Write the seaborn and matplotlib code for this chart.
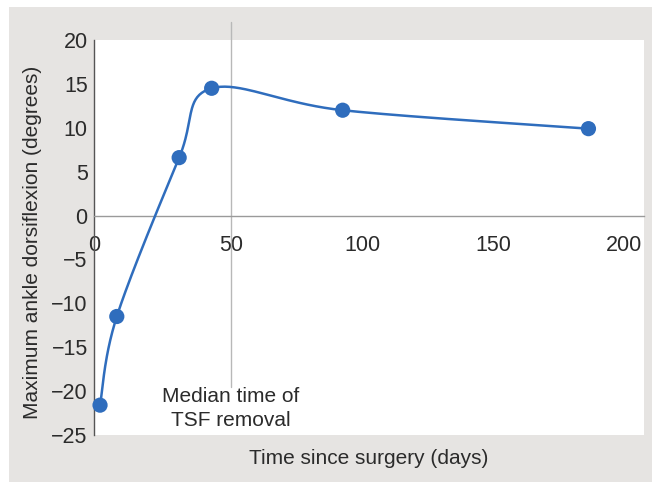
import numpy as np
import pandas as pd
import matplotlib
matplotlib.use("Agg")
import matplotlib.pyplot as plt
from matplotlib.patches import Rectangle
from matplotlib.transforms import ScaledTranslation
import seaborn as sns

# Data
days = [0, 6.4, 30.2, 42.6, 92.6, 186.4]
dorsiflexion = [-21.6, -11.5, 6.6, 14.5, 12.0, 9.9]
x_ticks = [0, 50, 100, 150, 200]
y_ticks = [-25, -20, -15, -10, -5, 0, 5, 10, 15, 20]
median_removal_day = 50
xlabel = "Time since surgery (days)"
ylabel = "Maximum ankle dorsiflexion (degrees)"
annot = "Median time of\nTSF removal"

sns.set_theme(style="white")
plt.rcParams['font.family'] = ['Liberation Sans', 'DejaVu Sans']
plt.rcParams['axes.unicode_minus'] = True

TEXT = '#2b2b2b'
BLUE = '#2f6dbd'

# Smoothed line (Catmull-Rom, like spreadsheet smoothing) through the data points
def catmull_rom(xs, ys, n=40):
    P = np.column_stack([xs, ys]).astype(float)
    P = np.vstack([P[0], P, P[-1]])
    out = []
    for i in range(1, len(P) - 2):
        p0, p1, p2, p3 = P[i - 1], P[i], P[i + 1], P[i + 2]
        t = np.linspace(0, 1, n, endpoint=(i == len(P) - 3))[:, None]
        seg = 0.5 * ((2 * p1) + (-p0 + p2) * t + (2 * p0 - 5 * p1 + 4 * p2 - p3) * t ** 2
                     + (-p0 + 3 * p1 - 3 * p2 + p3) * t ** 3)
        out.append(seg)
    S = np.vstack(out)
    return S[:, 0], S[:, 1]

sx, sy = catmull_rom(days, dorsiflexion)
smooth = pd.DataFrame({"x": sx, "y": sy})
pts = pd.DataFrame({"x": days, "y": dorsiflexion})

fig = plt.figure(figsize=(6.52, 4.83), dpi=100)
fig.patch.set_facecolor('white')
bg = Rectangle((9 / 652, 1 / 483), 1 - 9 / 652, (481 - 6) / 483,
               transform=fig.transFigure, facecolor='#e6e4e2',
               edgecolor='none', zorder=-10)
fig.add_artist(bg)

ax = fig.add_axes([94 / 652, 1 - 435 / 483, (644 - 94) / 652, (435 - 40) / 483])
ax.set_zorder(1)
ax.set_facecolor('white')

ax.plot([median_removal_day, median_removal_day], [-19.5, 22.0], color='#b8b8b8',
        lw=1.0, clip_on=False, zorder=1)

sns.lineplot(data=smooth, x="x", y="y", sort=False, estimator=None, ax=ax,
             color=BLUE, lw=1.8, zorder=3)
sns.scatterplot(data=pts, x="x", y="y", ax=ax, color=BLUE, s=120,
                edgecolor='none', zorder=4, clip_on=False)

ax.set_xlim(-2.3, 207.6)
ax.set_ylim(-25, 20)
ax.set_xticks(x_ticks)
ax.set_yticks(y_ticks)

for s in ['top', 'right']:
    ax.spines[s].set_visible(False)
ax.spines['bottom'].set_position(('data', 0))
ax.spines['bottom'].set_color('#9a9a9a')
ax.spines['bottom'].set_linewidth(1.0)
ax.spines['left'].set_color('#555555')
ax.spines['left'].set_linewidth(1.0)
ax.spines['left'].set_position(('axes', 0))

ax.tick_params(axis='x', length=0, pad=14, labelsize=15.5, labelcolor=TEXT)
ax.tick_params(axis='y', length=0, pad=4.5, labelsize=15.5, labelcolor=TEXT)

# the "0" label sits on the vertical axis line in the original
lbl0 = ax.get_xticklabels()[0]
lbl0.set_transform(lbl0.get_transform() + ScaledTranslation(-5.5 / 100, 0, fig.dpi_scale_trans))

ax.set_xlabel("")
ax.set_ylabel("")
fig.text(369 / 652, 1 - 459 / 483, xlabel, ha='center', va='center',
         fontsize=15, color=TEXT)
fig.text(33 / 652, 1 - 242 / 483, ylabel, ha='center', va='center',
         rotation=90, fontsize=15, color=TEXT)

ax.text(median_removal_day, -22.0, annot, ha='center', va='center',
        fontsize=15, color=TEXT, linespacing=1.3)

fig.savefig("out.png", dpi=100, facecolor=fig.get_facecolor())
